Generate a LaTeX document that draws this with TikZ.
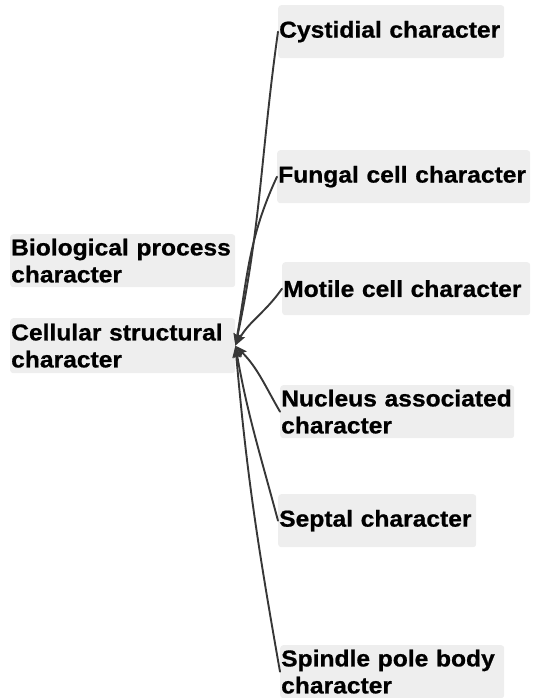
\documentclass[tikz,border=0pt]{standalone}
\usepackage{fontspec}
\setmainfont{Liberation Sans}[FakeStretch=1.07, BoldFeatures={FakeBold=0.8}]
\usepackage{xcolor}
\usetikzlibrary{arrows.meta}
\definecolor{BoxFill}{RGB}{238,238,238}
\definecolor{LinkCol}{RGB}{55,55,55}

\begin{document}
\begin{tikzpicture}[
  x=1pt, y=1pt,
  >={Stealth[length=12pt,width=8pt,inset=2pt]},
  line cap=round,
  line join=round,
  every node/.style={font=\fontsize{23}{27}\selectfont\bfseries},
  term/.style={fill=BoxFill, rounded corners=3pt, anchor=north west,
    inner xsep=1pt, inner ysep=1pt, minimum height=53pt, align=left,
    execute at begin node={\hyphenpenalty=10000\relax}},
  link/.style={->, line width=1.9pt, LinkCol}
]
  \useasboundingbox (0,0) rectangle (536,698);

  % Parent terms on the left
  \node[term, text width=223pt] (bio)  at (10,464) {Biological process\\character};
  \node[term, text width=223pt, minimum height=55pt] (cell) at (10,380) {Cellular structural\\character};

  % Child terms on the right
  \node[term, text width=224pt] (cyst) at (278,693) {Cystidial character};
  \node[term, text width=251pt] (fung) at (277,548) {Fungal cell character};
  \node[term, text width=246pt] (mot)  at (282,436) {Motile cell character};
  \node[term, text width=232pt] (nuc)  at (280,313) {Nucleus associated\\character};
  \node[term, text width=196pt] (sep)  at (278,204) {Septal character};
  \node[term, text width=222pt] (spb)  at (280,53)  {Spindle pole body\\character};

  % Subclass links into the parent
  \foreach \nd/\o/\i in {cyst/262/78, fung/245/80, mot/235/60,
                         nuc/120/-45, sep/105/-80, spb/100/-85}{
    \draw[link] (\nd.west) to[out=\o, in=\i] (cell.east);
  }
\end{tikzpicture}
\end{document}
